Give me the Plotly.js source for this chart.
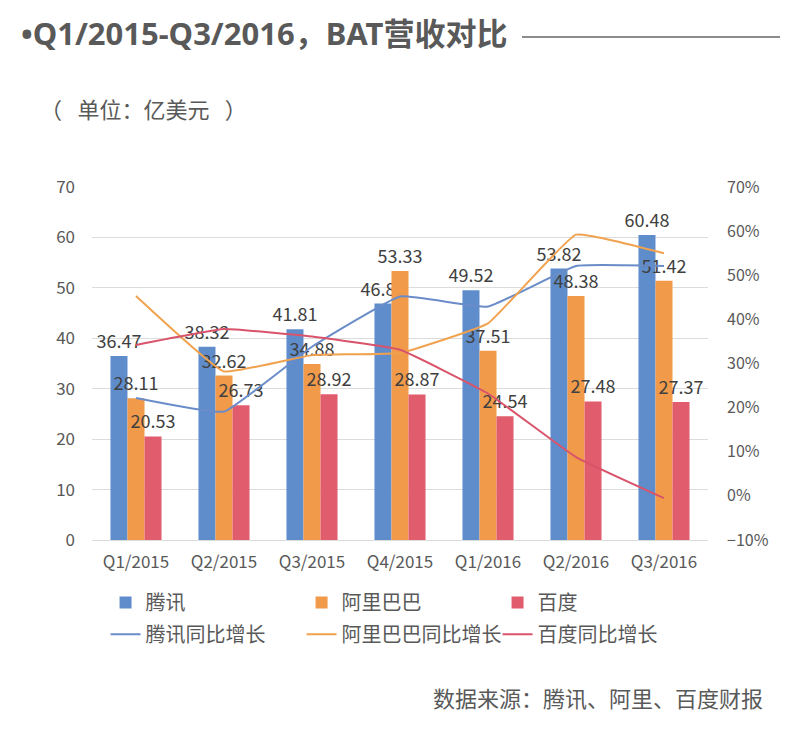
<!DOCTYPE html>
<html>
<head>
<meta charset="utf-8">
<script src="https://cdn.plot.ly/plotly-3.0.1.min.js"></script>
<style>html,body{margin:0;padding:0;background:#fff;}#chart{width:800px;height:730px;}</style>
</head>
<body>
<div id="chart"></div>
<script>
const quarters = ["Q1/2015","Q2/2015","Q3/2015","Q4/2015","Q1/2016","Q2/2016","Q3/2016"];
const tencentRevenue = [36.47, 38.32, 41.81, 46.88, 49.52, 53.82, 60.48];
const alibabaRevenue = [28.11, 32.62, 34.88, 53.33, 37.51, 48.38, 51.42];
const baiduRevenue   = [20.53, 26.73, 28.92, 28.87, 24.54, 27.48, 27.37];
const tencentGrowth  = [22.2, 19.1, 33.8, 45.2, 42.9, 52.1, 52.1];
const alibabaGrowth  = [45.3, 28.2, 31.9, 32.4, 39.1, 59.2, 55.0];
const baiduGrowth    = [34.2, 37.8, 36.1, 33.1, 23.2, 8.8, -0.5];
const barNames  = ["腾讯", "阿里巴巴", "百度"];
const lineNames = ["腾讯同比增长", "阿里巴巴同比增长", "百度同比增长"];

const FONT = "Noto Sans CJK SC, Noto Sans, sans-serif";
const LATIN = "Noto Sans, Noto Sans CJK SC, sans-serif";
const GREY = "#595959";
const barColors  = ["#5f8dcb", "#f19a4a", "#e15c6c"];
const lineColors = ["#6a8cc8", "#f0a24e", "#d9546b"];

const revenues = [tencentRevenue, alibabaRevenue, baiduRevenue];
const growths  = [tencentGrowth, alibabaGrowth, baiduGrowth];

const traces = [];
revenues.forEach((vals, i) => {
  traces.push({
    type: "bar", name: barNames[i], x: quarters, y: vals,
    marker: {color: barColors[i]},
    text: vals.map(v => v.toFixed(2)), textposition: "outside",
    constraintext: "none", cliponaxis: false,
    textfont: {family: FONT, size: 18, color: "#404040"},
    legend: "legend", hoverinfo: "x+y"
  });
});
growths.forEach((vals, i) => {
  traces.push({
    type: "scatter", mode: "lines", name: lineNames[i], x: quarters, y: vals,
    yaxis: "y2", line: {color: lineColors[i], width: 2, shape: "spline", smoothing: 0.3},
    legend: "legend2"
  });
});

const layout = {
  width: 800, height: 730,
  margin: {l: 92, r: 92, t: 187, b: 190},
  paper_bgcolor: "#fff", plot_bgcolor: "#fff",
  font: {family: FONT, color: GREY},
  barmode: "group", bargap: 0.42, bargroupgap: 0,
  showlegend: true,
  xaxis: {
    type: "category", showgrid: false, zeroline: false, showline: false,
    tickfont: {family: FONT, size: 17, color: GREY}, ticks: "", ticklabelstandoff: 10
  },
  yaxis: {
    range: [0, 70], dtick: 10, showgrid: true, gridcolor: "#dcdcdc", gridwidth: 1,
    zeroline: true, zerolinecolor: "#dcdcdc", showline: false,
    tickfont: {family: FONT, size: 17, color: GREY}, ticks: "", ticklabelstandoff: 16
  },
  yaxis2: {
    overlaying: "y", side: "right", range: [-10, 70], dtick: 10, ticksuffix: "%",
    showgrid: false, zeroline: false, showline: false,
    tickfont: {family: FONT, size: 16, color: GREY}, ticks: "", ticklabelstandoff: 18
  },
  legend: {
    orientation: "h", x: 0.022, xanchor: "left", y: -0.122, yanchor: "top",
    entrywidth: 151, entrywidthmode: "pixels", itemwidth: 30,
    font: {family: FONT, size: 20, color: GREY}, bgcolor: "rgba(0,0,0,0)"
  },
  legend2: {
    orientation: "h", x: 0.022, xanchor: "left", y: -0.212, yanchor: "top",
    entrywidth: 151, entrywidthmode: "pixels", itemwidth: 30,
    font: {family: FONT, size: 20, color: GREY}, bgcolor: "rgba(0,0,0,0)"
  },
  annotations: [
    {text: "•Q1/2015-Q3/2016，BAT营收对比", xref: "paper", yref: "paper",
     x: -0.119, y: 1.436, xanchor: "left", yanchor: "middle", showarrow: false,
     font: {family: LATIN, size: 31, color: GREY, weight: "bold"}},
    {text: "（\u2002\u2009单位：亿美元\u2002\u2009）", xref: "paper", yref: "paper",
     x: -0.088, y: 1.224, xanchor: "left", yanchor: "middle", showarrow: false,
     font: {family: FONT, size: 22, color: GREY}},
    {text: "数据来源：腾讯、阿里、百度财报", xref: "paper", yref: "paper",
     x: 1.0925, y: -0.445, xanchor: "right", yanchor: "middle", showarrow: false,
     font: {family: FONT, size: 22, color: GREY}}
  ],
  shapes: [
    {type: "line", xref: "paper", yref: "paper", x0: 0.698, x1: 1.117, y0: 1.425, y1: 1.425,
     line: {color: "#666", width: 1.5}}
  ]
};

Plotly.newPlot("chart", traces, layout, {displayModeBar: false, responsive: false});
</script>
</body>
</html>
